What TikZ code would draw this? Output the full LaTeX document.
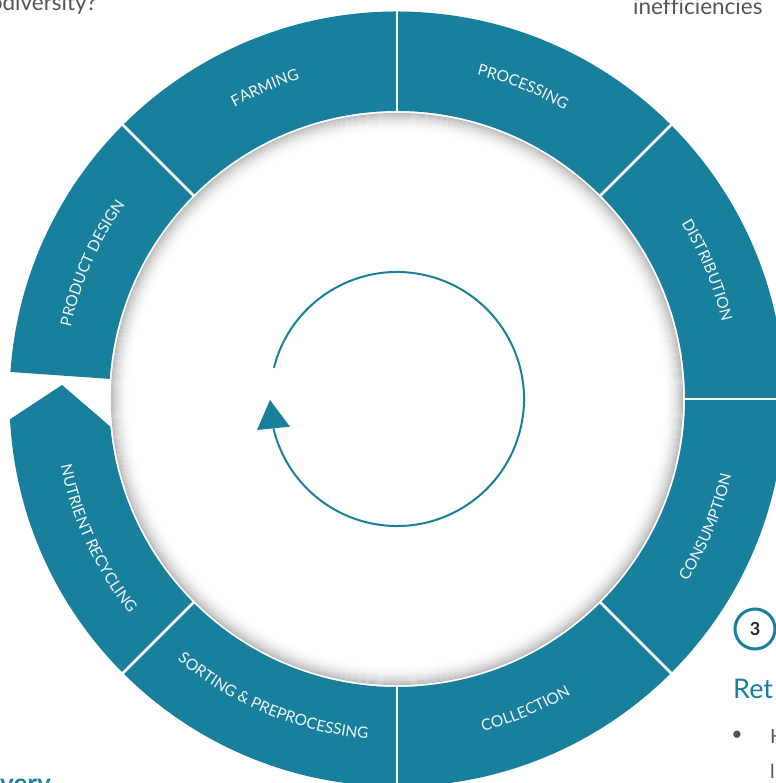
\documentclass[tikz,border=0pt]{standalone}
\usepackage{fontspec}
\setmainfont{Lato}
\newfontfamily\latofont[Ligatures=NoCommon]{Lato}
\usetikzlibrary{decorations.text}
\definecolor{ringteal}{RGB}{24,127,157}
\definecolor{txtgray}{RGB}{85,85,85}
\newcommand\seglabelfont{\latofont\fontsize{15.5}{18}\selectfont}
\begin{document}
\begin{tikzpicture}[x=1pt,y=1pt,
  seglabel/.style={decorate, decoration={text along path, text align=center, text color=white!94!ringteal}},
  sepline/.style={draw=white, line width=2.5pt},
  sidetext/.style={inner sep=0pt, text=txtgray, font=\latofont\fontsize{22.5}{26}\selectfont},
  headtext/.style={inner sep=0pt, text=ringteal, font=\latofont\fontsize{27}{32}\selectfont},
  bodytext/.style={inner sep=0pt, text=txtgray, font=\latofont\fontsize{19.5}{23}\selectfont}]
\useasboundingbox (-397,-384) rectangle (378,399);

% inner shadow
\foreach \i in {0,...,19}{
  \pgfmathsetmacro\g{26*(1-\i/20)^2}
  \draw[line width=1.2pt, draw=black!\g] (0,0) circle[radius=285.5-\i];
}

% ring with arrow-shaped start
\fill[ringteal] (176:387.5) arc[start angle=176, end angle=-177, radius=387.5]
  -- (177.6:335.3) -- (-174.5:288)
  arc[start angle=-174.5, end angle=176, radius=288] -- cycle;

% separators
\foreach \a in {-135,-90,-45,0,45,90,135}
  \draw[sepline] (\a:287) -- (\a:390);

% segment labels (top half: tops outward)
\path[seglabel, decoration={text={|\seglabelfont|FARMING}}]
  (143:334) arc[start angle=143, end angle=83, radius=334];
\path[seglabel, decoration={text={|\seglabelfont|PROCESSING}}]
  (98:334) arc[start angle=98, end angle=38, radius=334];
\path[seglabel, decoration={text={|\seglabelfont|DISTRIBUTION}}]
  (52.5:334) arc[start angle=52.5, end angle=-7.5, radius=334];
\path[seglabel, decoration={text={|\seglabelfont|PRODUCT DESIGN}}]
  (186:334) arc[start angle=186, end angle=126, radius=334];
% bottom half: tops inward
\path[seglabel, decoration={text={|\seglabelfont|CONSUMPTION}}]
  (-52.5:343) arc[start angle=-52.5, end angle=7.5, radius=343];
\path[seglabel, decoration={text={|\seglabelfont|COLLECTION}}]
  (-97.5:343) arc[start angle=-97.5, end angle=-37.5, radius=343];
\path[seglabel, decoration={text={|\seglabelfont|SORTING {\&} PREPROCESSING}}]
  (-142.5:341) arc[start angle=-142.5, end angle=-82.5, radius=341];
\path[seglabel, decoration={text={|\seglabelfont|NUTRIENT RECYCLING}}]
  (175:343) arc[start angle=175, end angle=235, radius=343];

% inner cycle arrow
\draw[ringteal, line width=2pt] (165.8:127) arc[start angle=165.8, end angle=-166.6, radius=127];
\fill[ringteal] (-127,-1) -- (-140,-31) -- (-107,-27.7) -- cycle;

% surrounding (cropped) texts
\node[sidetext, anchor=base east] (bio) at (-300,388) {biodiversity?};
\node[sidetext, anchor=base west] (ineff) at (236,384) {inefficiencies};
\node[circle, draw=ringteal, line width=3pt, minimum size=40pt, inner sep=0pt,
  text=black!85, font=\latofont\bfseries\fontsize{18}{21}\selectfont] (three) at (358,-230) {3};
\node[headtext, anchor=base west] (ret) at (336,-299) {Ret};
\node[bodytext, anchor=center] (bullet) at (340,-337) {•};
\node[bodytext, anchor=base west] (lineone) at (373,-344) {H};
\node[bodytext, anchor=base west] (linetwo) at (373,-379) {l};
\node[headtext, anchor=base west, font=\latofont\bfseries\fontsize{26}{30}\selectfont] (very) at (-397,-393) {very};
\end{tikzpicture}
\end{document}
